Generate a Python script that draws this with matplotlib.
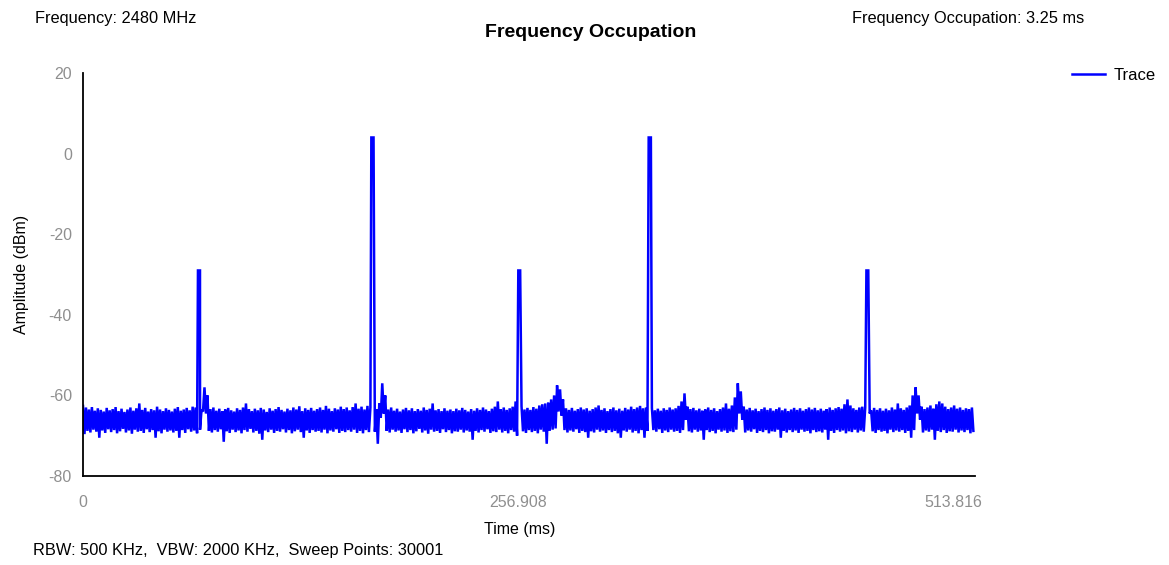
import matplotlib
matplotlib.use("Agg")
import matplotlib.pyplot as plt
import numpy as np

# ---------------- data ----------------
dt = 1.75  # ms between noise envelope samples

noise_hi = [
    -62.6, -63.0, -63.5, -62.9, -63.8, -63.2, -63.6, -64.0, -63.1, -63.7,
    -63.4, -62.9, -63.9, -63.3, -64.1, -63.5, -63.0, -63.8, -63.2, -62.0,
    -63.6, -63.1, -64.0, -63.4, -63.7, -62.8, -63.5, -63.9, -63.2, -63.6,
    -64.0, -63.3, -62.9, -63.8, -63.5, -63.1, -63.7, -62.8, -63.0, -62.5,
    -63.5, -58.0, -60.0, -63.4, -63.0, -63.8, -63.3, -63.9, -63.5, -63.1,
    -63.7, -64.0, -63.2, -63.6, -63.0, -62.0, -63.4, -63.9, -63.3, -63.7,
    -63.1, -63.5, -64.1, -63.2, -63.8, -63.4, -62.9, -63.6, -64.0, -63.3,
    -63.7, -63.0, -63.5, -62.7, -63.9, -63.2, -63.6, -63.1, -63.8, -63.4,
    -63.0, -63.6, -62.6, -63.3, -63.9, -63.2, -63.5, -62.8, -63.4, -63.0,
    -63.7, -62.9, -62.0, -63.3, -62.8, -63.5, -62.6, -63.0, -63.2, -63.4,
    -62.0, -57.0, -60.0, -63.5, -63.0, -63.8, -63.3, -64.0, -63.5, -63.1,
    -63.7, -63.2, -63.9, -63.4, -63.8, -63.0, -63.6, -63.3, -62.0, -63.7,
    -63.4, -63.9, -63.2, -63.8, -63.5, -63.9, -63.3, -63.7, -63.1, -63.6,
    -64.0, -63.4, -63.8, -63.2, -63.6, -63.0, -63.5, -63.9, -63.3, -62.8,
    -61.5, -63.4, -63.0, -63.6, -63.2, -62.8, -61.5, -63.0, -62.7, -63.5,
    -63.1, -63.6, -62.9, -63.3, -62.5, -62.2, -62.0, -61.8, -61.0, -60.0,
    -57.5, -58.5, -61.0, -63.2, -63.6, -63.1, -63.8, -63.4, -63.0, -63.5,
    -63.2, -63.8, -63.4, -63.0, -62.5, -63.6, -63.2, -63.9, -63.4, -63.0,
    -63.7, -63.3, -63.8, -63.1, -63.5, -62.8, -63.4, -63.0, -62.6, -63.2,
    -63.0, -63.4, -63.1, -63.7, -63.3, -63.8, -63.2, -63.6, -63.0, -63.5,
    -63.2, -62.6, -61.5, -59.5, -62.8, -63.4, -63.1, -63.7, -63.3, -63.8,
    -63.5, -63.0, -63.6, -63.2, -63.9, -63.4, -63.0, -62.0, -63.3, -62.5,
    -60.5, -57.0, -59.0, -62.8, -63.5, -63.1, -63.7, -63.3, -63.9, -63.4,
    -63.0, -63.6, -63.2, -63.8, -63.4, -63.0, -63.7, -63.3, -63.9, -63.5,
    -63.1, -63.6, -63.2, -63.8, -63.4, -63.0, -63.5, -63.1, -63.7, -63.3,
    -63.8, -63.4, -63.0, -63.6, -63.2, -62.9, -63.3, -62.2, -61.0, -62.5,
    -63.2, -63.6, -63.0, -62.8, -63.0, -63.3, -63.7, -63.1, -63.6, -63.2,
    -63.8, -63.3, -63.7, -63.0, -63.5, -62.0, -63.2, -63.6, -63.0, -62.5,
    -60.0, -58.0, -60.0, -62.8, -63.4, -63.0, -62.5, -63.3, -62.2, -61.5,
    -62.0, -62.8, -63.4, -63.0, -62.5, -63.3, -63.0, -63.6, -63.2, -63.4,
    -63.0,
]

noise_lo = [
    -69.6, -68.8, -69.2, -68.5, -69.0, -70.5, -68.7, -69.3, -68.4, -69.1,
    -68.6, -69.4, -68.9, -68.3, -69.2, -68.7, -69.5, -68.5, -69.0, -68.8,
    -69.3, -68.4, -69.1, -68.6, -70.5, -68.9, -69.4, -68.5, -69.0, -68.7,
    -69.2, -68.8, -70.5, -68.6, -69.3, -68.4, -69.0, -68.7, -69.4, -68.5,
    -64.0, -64.5, -68.8, -69.2, -68.6, -69.0, -68.4, -71.5, -68.9, -69.3,
    -68.5, -69.1, -68.7, -69.4, -68.6, -69.0, -68.3, -69.2, -68.8, -69.5,
    -71.0, -68.7, -69.1, -68.5, -69.3, -68.8, -69.0, -68.4, -69.2, -68.6,
    -69.4, -68.9, -68.5, -69.1, -70.5, -68.7, -69.3, -68.6, -69.0, -68.8,
    -69.2, -68.5, -69.4, -68.7, -69.0, -68.4, -69.3, -68.8, -69.1, -68.6,
    -69.0, -68.5, -69.3, -68.8, -69.4, -68.6, -69.1, -68.7, -69.0, -72.0,
    -65.5, -64.5, -68.8, -69.2, -68.5, -69.0, -68.7, -69.3, -68.4, -69.1,
    -68.6, -69.4, -68.9, -68.3, -69.2, -68.7, -69.5, -68.5, -69.0, -68.8,
    -69.3, -68.4, -69.1, -68.6, -69.4, -68.9, -69.0, -68.5, -69.2, -68.7,
    -69.0, -71.0, -68.8, -69.2, -68.6, -69.0, -68.4, -69.3, -68.9, -69.1,
    -68.5, -69.2, -68.8, -69.4, -68.6, -69.0, -70.0, -68.7, -68.9, -69.3,
    -68.6, -69.1, -68.8, -69.4, -68.5, -69.0, -72.0, -68.8, -68.5, -68.2,
    -64.0, -65.0, -68.6, -69.2, -68.7, -69.0, -68.4, -69.3, -68.8, -69.1,
    -70.5, -68.9, -69.2, -68.5, -69.0, -68.7, -69.3, -68.6, -69.1, -68.8,
    -69.4, -70.5, -68.7, -69.0, -68.5, -69.2, -68.8, -69.4, -68.6, -70.5,
    -68.8, -69.2, -68.6, -69.0, -68.4, -69.3, -68.7, -69.1, -68.5, -69.0,
    -68.8, -69.3, -68.6, -66.0, -68.9, -69.2, -68.5, -69.0, -68.7, -71.0,
    -68.6, -69.1, -68.8, -69.4, -68.5, -69.0, -68.7, -69.3, -68.9, -69.1,
    -68.5, -64.5, -66.0, -69.2, -68.7, -69.0, -68.4, -69.3, -68.8, -69.1,
    -68.6, -69.4, -68.9, -69.0, -68.5, -70.5, -68.8, -69.2, -68.6, -69.1,
    -68.7, -69.3, -68.5, -69.0, -68.8, -69.4, -68.6, -69.1, -68.9, -69.2,
    -68.5, -71.0, -68.8, -69.3, -68.6, -69.0, -68.7, -69.4, -68.9, -69.1,
    -68.5, -69.2, -68.7, -69.0, -68.4, -64.5, -68.9, -69.3, -68.6, -69.0,
    -68.8, -69.4, -68.5, -69.1, -68.7, -69.0, -68.6, -69.3, -68.8, -70.5,
    -68.6, -64.5, -66.0, -69.2, -68.7, -69.0, -68.5, -71.0, -68.8, -69.1,
    -68.6, -69.3, -68.9, -69.0, -68.5, -69.2, -68.7, -69.1, -68.6, -69.4,
    -68.8,
]

# pulses (ms) and their peak amplitude (dBm)
spike_start = [67.9, 170.3, 257.1, 334.1, 462.7]
spike_end = [69.1, 171.6, 258.2, 335.4, 463.8]
spike_top = [-29.0, 4.0, -29.0, 4.0, -29.0]

x_ticks = [0, 256.908, 513.816]
x_ticklabels = ["0", "256.908", "513.816"]
y_ticks = [-80, -60, -40, -20, 0, 20]

# ---------------- build the trace ----------------
t_pts, y_pts = [], []
for i, (h, l) in enumerate(zip(noise_hi, noise_lo)):
    t_pts += [i * dt, i * dt + dt / 2]
    y_pts += [h, l]
t_pts = np.array(t_pts)
y_pts = np.array(y_pts)
keep = np.ones(len(t_pts), bool)
for s, e in zip(spike_start, spike_end):
    keep &= ~((t_pts >= s) & (t_pts <= e))
t_list = list(t_pts[keep])
y_list = list(y_pts[keep])
for s, e, top in zip(spike_start, spike_end, spike_top):
    t_list += [s, e]
    y_list += [top, top]
order = np.argsort(np.array(t_list), kind="stable")
trace_t = np.array(t_list)[order]
trace_y = np.array(y_list)[order]

# ---------------- plot ----------------
plt.rcParams["font.family"] = ["Liberation Sans", "DejaVu Sans"]
plt.rcParams["axes.unicode_minus"] = False
fig = plt.figure(figsize=(11.69, 5.65), dpi=100)
ax = fig.add_axes([0.0710, 0.1575, 0.7630, 0.7133])

ax.plot(trace_t, trace_y, color="#0000ff", lw=1.8, label="Trace",
        solid_joinstyle="miter")

ax.set_xlim(0, 526.8)
ax.set_ylim(-80, 20)
ax.set_xticks(x_ticks)
ax.set_xticklabels(x_ticklabels)
ax.set_yticks(y_ticks)
ax.tick_params(axis="both", length=0, labelsize=11.5, labelcolor="#8f8f8f")
ax.tick_params(axis="x", pad=14)
ax.tick_params(axis="y", pad=8)
for side in ["top", "right"]:
    ax.spines[side].set_visible(False)
for side in ["left", "bottom"]:
    ax.spines[side].set_color("black")
    ax.spines[side].set_linewidth(1.3)

ax.set_xlabel("Time (ms)", fontsize=11.5)
ax.xaxis.set_label_coords(0.49, -0.113)
ax.set_ylabel("Amplitude (dBm)", fontsize=11.5, labelpad=14)

fig.text(0.505, 0.942, "Frequency Occupation", ha="center", va="center",
         fontsize=14, fontweight="bold")
fig.text(0.030, 0.968, "Frequency: 2480 MHz", ha="left", va="center", fontsize=11.8)
fig.text(0.729, 0.968, "Frequency Occupation: 3.25 ms", ha="left", va="center", fontsize=11.8)
fig.text(0.028, 0.025, "RBW: 500 KHz,  VBW: 2000 KHz,  Sweep Points: 30001",
         ha="left", va="center", fontsize=11.8)

fig.legend(loc="center left", bbox_to_anchor=(0.911, 0.867), frameon=False,
           fontsize=12, handlelength=2.0, handletextpad=0.5, borderaxespad=0)

fig.savefig("out.png", dpi=100, facecolor="white")
